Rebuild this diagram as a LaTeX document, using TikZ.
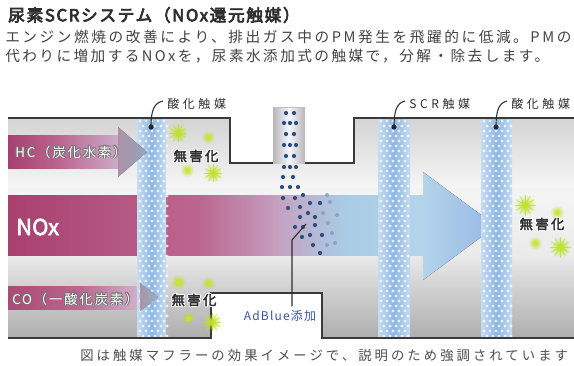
\documentclass[tikz,border=0pt]{standalone}
\usepackage{fontspec}
\usetikzlibrary{fadings}
\newfontfamily\jptitle[LetterSpace=10,FakeBold=4]{Noto Sans CJK JP}
\newfontfamily\jpbodya[LetterSpace=17.5]{Noto Sans CJK JP}
\newfontfamily\jpbodyb[LetterSpace=16.5]{Noto Sans CJK JP}
\newfontfamily\jpcap[LetterSpace=23]{Noto Sans CJK JP}
\newfontfamily\jpwide[LetterSpace=30]{Noto Sans CJK JP}
\newfontfamily\jpstream[LetterSpace=14]{Noto Sans CJK JP}
\newfontfamily\jpad[LetterSpace=10]{Noto Sans CJK JP}
\newfontfamily\jpbold[LetterSpace=18,FakeBold=3]{Noto Sans CJK JP}
\newfontfamily\jpheavy[FakeBold=2.5]{Noto Sans CJK JP}

\definecolor{wall}{HTML}{3A3A3A}
\definecolor{ink}{HTML}{2E2E2E}
\definecolor{rose}{HTML}{A8406F}
\definecolor{rosemid}{HTML}{BC6790}
\definecolor{lilac}{HTML}{C6A2C2}
\definecolor{skyband}{HTML}{A9CBE3}
\definecolor{skylight}{HTML}{B3D4EA}
\definecolor{catedge}{HTML}{C6DCF1}
\definecolor{catmid}{HTML}{8DB6E3}
\definecolor{spray}{HTML}{2D4F80}
\definecolor{spraylight}{HTML}{7F9CC0}
\definecolor{spark}{HTML}{BFE02A}
\definecolor{adblue}{HTML}{3A56A0}

\tikzfading[name=glowfade, inner color=transparent!0, outer color=transparent!100]

\tikzset{
  walline/.style={draw=wall, line width=1.7pt},
  txt/.style={inner sep=0pt, text=ink},
  leader/.style={draw=ink, line width=0.8pt},
  sdot/.style={fill=spray},
  sdotl/.style={fill=spraylight, opacity=0.8},
}

% honeycomb catalyst column: left edge, width
\newcommand\catcol[2]{%
  \fill[left color=catedge, right color=catedge, middle color=catmid] (#1,118) rectangle ++(#2,220);
  \foreach \j in {0,...,43}{%
    \pgfmathsetmacro\yy{121+5*\j}%
    \pgfmathsetmacro\off{mod(\j,2)*3}%
    \foreach \i in {0,...,4}{%
      \fill[white, opacity=0.75] ({#1+3+\off+6*\i},\yy) circle (1.6);
    }%
  }%
}

% glowing particle
\newcommand\glowdot[3]{%
  \fill[spark, path fading=glowfade] (#1,#2) circle (#3);
  \fill[spark!70!yellow, path fading=glowfade] (#1,#2) circle ({#3*0.5});
}
% glowing particle with rays
\newcommand\sparkstar[3]{%
  \glowdot{#1}{#2}{#3}%
  \foreach \a in {0,30,...,330}{%
    \draw[spark, line width=0.5pt, opacity=0.8] (#1,#2) -- ++(\a:{#3*1.05});
  }%
}

% text with a halo: [anchor] x,y, name, halo colour, text colour, content
\newcommand\halotext[6][center]{%
  \foreach \dx/\dy in {-0.9/0,0.9/0,0/-0.9,0/0.9,-0.7/-0.7,0.7/0.7,-0.7/0.7,0.7/-0.7}{%
    \node[txt, anchor=#1, text=#4] at ([shift={(\dx,\dy)}]#2) {#6};
  }%
  \node[txt, anchor=#1, text=#5] (#3) at (#2) {#6};
}

\begin{document}
\begin{tikzpicture}[x=0.75pt, y=-0.75pt]
\useasboundingbox (0,0) rectangle (574,365);
\fill[white] (0,0) rectangle (574,365);

% ---- heading and description ----
\node[txt, anchor=west, font=\jptitle\fontsize{12.5pt}{14pt}\selectfont] (title) at (8,15)
  {尿素SCRシステム（NOx還元触媒）};
\node[txt, anchor=west, text=ink!90, font=\jpbodya\fontsize{11pt}{13pt}\selectfont] (desc1) at (5,37)
  {エンジン燃焼の改善により、排出ガス中のPM発生を飛躍的に低減。PMの};
\node[txt, anchor=west, text=ink!90, font=\jpbodyb\fontsize{11pt}{13pt}\selectfont] (desc2) at (5,56)
  {代わりに増加するNOxを，尿素水添加式の触媒で，分解・除去します。};

% ---- muffler body ----
\begin{scope}
  \clip (8,118) -- (230,118) -- (230,163) -- (354,163) -- (354,118) -- (574,118)
     -- (574,338) -- (322,338) -- (322,293) -- (211,293) -- (211,338) -- (8,338) -- cycle;
  \fill[top color=black!17, bottom color=black!4] (0,117) rectangle (574,186);
  \fill[top color=black!4, bottom color=black!8] (0,185.5) rectangle (574,256);
  \fill[top color=black!8, bottom color=black!16] (0,255.5) rectangle (574,281);
  \fill[top color=black!16, bottom color=black!32] (0,280.5) rectangle (574,339);

  % NOx stream
  \fill[left color=rose, right color=rosemid] (8,195) rectangle (201,255);
  \fill[left color=rosemid, right color=lilac] (200,195) rectangle (281,255);
  \fill[left color=lilac, right color=skyband] (280,195) rectangle (341,255);
  \fill[left color=skyband, right color=skylight] (340,195) rectangle (424,255);
  \fill[left color=skylight, right color=skyband!90!blue] (423,172) -- (496,226) -- (423,280) -- cycle;

  % HC stream
  \fill[left color=rose, right color=rosemid] (8,135) rectangle (61,168);
  \fill[left color=rosemid, right color=lilac!90!white] (60,135) rectangle (119,168);

  % CO stream
  \fill[left color=rose!95!white, right color=rosemid] (8,286) rectangle (81,309);
  \fill[left color=rosemid, right color=lilac!80!white] (80,286) rectangle (141,309);

  % catalysts
  \catcol{137}{29}
  \catcol{378}{32}
  \catcol{481}{31}

  % arrow tips of HC and CO streams
  \fill[left color=lilac!90!white, right color=skyband!80!lilac, opacity=0.8] (118,127) -- (147,152) -- (118,177) -- cycle;
  \fill[left color=lilac!80!white, right color=skyband!70!white, opacity=0.75] (140,283) -- (158,297) -- (140,311) -- cycle;
\end{scope}

% ---- AdBlue dosing pipe ----
\fill[left color=black!28, right color=black!28, middle color=blue!4!white] (273,107) rectangle (305,163);
\draw[black!25, line width=0.6pt] (273,107) -- (305,107);
\foreach \x/\y in {286/113,294/113, 284/123,290/123,296/123, 286/134,294/134,
                   284/145,290/145,296/145, 286/156,294/156, 284/167,290/167,296/167,
                   283/177,293/177, 282/187,290/187,298/187,
                   283/198,295/198,303/195, 288/208,300/207,310/203,320/203,
                   300/217,308/213,315/217, 295/227,303/227,315/225,
                   302/237,310/235,322/235, 313/245,320/253}
  \fill[sdot] (\x,\y) circle (2.1);
\foreach \x/\y in {327/195,330/202,323/213,328/223,332/233,327/245,337/215,335/243}
  \fill[sdotl] (\x,\y) circle (2);

% ---- walls ----
\draw[walline] (8,118) -- (230,118) -- (230,163) -- (273,163);
\draw[walline] (305,163) -- (354,163) -- (354,118) -- (576,118);
\draw[walline] (8,338) -- (211,338) -- (211,293) -- (322,293) -- (322,338) -- (576,338);

% ---- stream labels ----
\halotext[west]{15,152}{hc}{black!55}{white}{\jpstream\fontsize{10pt}{11pt}\selectfont HC（炭化水素）}
\halotext[west]{12,299}{co}{black!55}{white}{\jpstream\fontsize{10pt}{11pt}\selectfont CO（一酸化炭素）}
\node[txt, anchor=west, text=white, font=\jpheavy\fontsize{16.5pt}{18pt}\selectfont] (nox) at (16,227) {NOx};

% ---- harmless products ----
\sparkstar{178}{133}{9}
\glowdot{208}{137}{7}
\glowdot{187}{170}{7}
\sparkstar{213}{173}{9}
\halotext{196,156}{ok1}{white}{ink}{\jpbold\fontsize{10pt}{11pt}\selectfont 無害化}

\glowdot{178}{282}{8}
\glowdot{208}{283}{7}
\glowdot{188}{318}{7}
\sparkstar{212}{322}{9}
\halotext{194,300}{ok2}{white}{ink}{\jpbold\fontsize{10pt}{11pt}\selectfont 無害化}

\sparkstar{525}{205}{10}
\glowdot{557}{212}{7}
\glowdot{535}{243}{7}
\sparkstar{560}{247}{10}
\halotext{542,224}{ok3}{white}{ink}{\jpbold\fontsize{10pt}{11pt}\selectfont 無害化}

% ---- catalyst labels ----
\coordinate (d1) at (151,127);
\coordinate (d2) at (394,127);
\coordinate (d3) at (496,127);
\node[txt, anchor=west, font=\jpwide\fontsize{9pt}{10pt}\selectfont] (ox1) at (167,104) {酸化触媒};
\node[txt, anchor=west, font=\jpwide\fontsize{9pt}{10pt}\selectfont] (scr) at (409,104) {SCR触媒};
\node[txt, anchor=west, font=\jpwide\fontsize{9pt}{10pt}\selectfont] (ox2) at (511,104) {酸化触媒};
\coordinate (e1) at (163,101);
\coordinate (e2) at (405,101);
\coordinate (e3) at (507,101);
\draw[leader] (d1) .. controls (151,110) and (154,103) .. (e1);
\draw[leader] (d2) .. controls (394,110) and (397,103) .. (e2);
\draw[leader] (d3) .. controls (496,110) and (499,103) .. (e3);
\foreach \d in {d1,d2,d3} \fill[black!85] (\d) circle (2.6);

% ---- AdBlue label ----
\node[txt, text=adblue, font=\jpad\fontsize{9pt}{10pt}\selectfont] (ad) at (280,316) {AdBlue添加};
\coordinate (a1) at (306,224);
\coordinate (a2) at (292,240);
\coordinate (a3) at ([yshift=3]a2 |- ad.north);
\draw[leader] (a1) -- (a2) -- (a3);

% ---- caption ----
\node[txt, anchor=west, text=ink!85, font=\jpcap\fontsize{10pt}{11pt}\selectfont] (cap) at (80,355)
  {図は触媒マフラーの効果イメージで、説明のため強調されています};
\end{tikzpicture}
\end{document}
